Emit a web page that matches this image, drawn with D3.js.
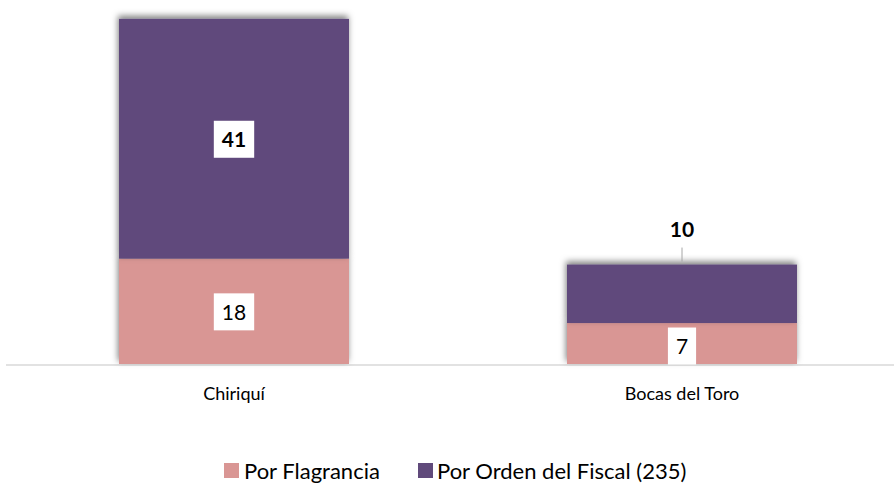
<!DOCTYPE html>
<html><head><meta charset="utf-8">
<script src="https://cdn.jsdelivr.net/npm/d3@7"></script>
<style>body{margin:0;background:#fff}svg{display:block}text{font-family:Lato,"Open Sans",sans-serif}</style>
</head><body><svg id="c" width="894" height="485"></svg>
<script>
const categories = ["Chiriquí", "Bocas del Toro"];
const seriesNames = ["Por Flagrancia", "Por Orden del Fiscal (235)"];
const flagrancia = [18, 7];
const ordenFiscal = [41, 10];
const colors = ["#d99694", "#604a7b"];

const svg = d3.select("#c");
const defs = svg.append("defs");
const f = defs.append("filter").attr("id","sh").attr("x","-10%").attr("y","-20%").attr("width","120%").attr("height","140%");
f.append("feDropShadow").attr("dx",-1).attr("dy",-3).attr("stdDeviation",3).attr("flood-color","#000").attr("flood-opacity",0.5);

const x = d3.scaleBand().domain(categories).range([10, 906]).paddingInner(0).paddingOuter(0);
const y = d3.scaleLinear().domain([0, 60]).range([364, 13]);

const stackData = categories.map((c,i)=>({cat:c, a:flagrancia[i], b:ordenFiscal[i]}));
const stack = d3.stack().keys(["a","b"])(stackData);

// axis
const ax = svg.append("g").attr("transform","translate(0,365)")
  .call(d3.axisBottom(x).tickSize(0).tickPadding(22));
ax.select(".domain").remove();
ax.selectAll("text").attr("font-size",18).attr("fill","#000").attr("font-family","Lato, sans-serif");
svg.append("line").attr("x1",6).attr("x2",894).attr("y1",365).attr("y2",365).attr("stroke","#d9d9d9").attr("stroke-width",1.5);

const bw = 230;
stack.forEach((s,si)=>{
  svg.append("g").selectAll("rect").data(s).join("rect")
    .attr("x", d=>x(d.data.cat)+x.bandwidth()/2-bw/2)
    .attr("width", bw)
    .attr("y", d=>y(d[1]))
    .attr("height", d=>y(d[0])-y(d[1]))
    .attr("fill", colors[si])
    .attr("filter","url(#sh)");
});

function boxLabel(cx, cy, txt, bold){
  const g = svg.append("g");
  const t = g.append("text").attr("x",cx).attr("y",cy).attr("text-anchor","middle").attr("dominant-baseline","central")
    .attr("font-size",21).attr("font-weight",bold?"bold":"normal").attr("fill","#000").text(txt);
  const bb = t.node().getBBox();
  g.insert("rect","text").attr("x",cx-(bb.width+16)/2).attr("y",cy-18).attr("width",bb.width+16).attr("height",37).attr("fill","#fff");
}
stackData.forEach((d,i)=>{
  const cx = x(d.cat)+x.bandwidth()/2;
  boxLabel(cx, (y(0)+y(d.a))/2 + (i===1?2:0), String(d.a), false);
  if (i===0) {
    boxLabel(cx, (y(d.a)+y(d.a+d.b))/2, String(d.b), true);
  } else {
    const top = y(d.a+d.b);
    svg.append("line").attr("x1",cx).attr("x2",cx).attr("y1",top-3).attr("y2",top-17).attr("stroke","#a6a6a6").attr("stroke-width",1);
    svg.append("text").attr("x",cx).attr("y",top-36).attr("text-anchor","middle").attr("dominant-baseline","central")
      .attr("font-size",21).attr("font-weight","bold").text(String(d.b));
  }
});

const leg = [{x:224,tx:244},{x:418,tx:437}];
seriesNames.forEach((n,i)=>{
  svg.append("rect").attr("x",leg[i].x).attr("y",463).attr("width",15).attr("height",15).attr("fill",colors[i]);
  svg.append("text").attr("x",leg[i].tx).attr("y",470).attr("dominant-baseline","central").attr("font-size",22).attr("fill","#000").text(n);
});
</script></body></html>
